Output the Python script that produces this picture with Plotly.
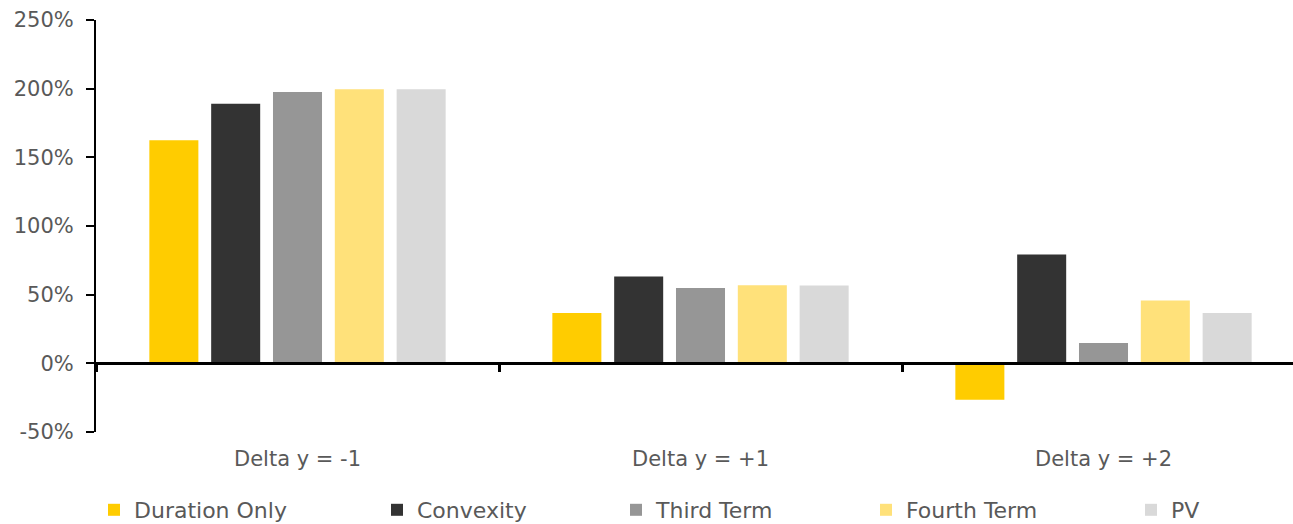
import plotly.graph_objects as go

# ---- data ----
categories = ["Delta y = -1", "Delta y = +1", "Delta y = +2"]
series_names = ["Duration Only", "Convexity", "Third Term", "Fourth Term", "PV"]
duration_only = [162.5, 36.7, -26.5]
convexity = [189.0, 63.2, 79.2]
third_term = [197.5, 54.9, 14.8]
fourth_term = [199.5, 56.9, 45.7]
pv = [199.5, 56.6, 36.7]
y_tick_values = [-50, 0, 50, 100, 150, 200, 250]
y_tick_labels = ["-50%", "0%", "50%", "100%", "150%", "200%", "250%"]

# ---- style ----
colors = ["#FFCC00", "#333333", "#969696", "#FFE17A", "#D9D9D9"]
FONT = "DejaVu Sans"
TEXT_COLOR = "#595959"
W, H = 1293, 524
ML, MR, MT, MB = 96, 0, 20, 92
plot_w = W - ML - MR
plot_h = H - MT - MB
legend_text_px = [133, 416, 655, 905, 1170]  # left of legend text in px
legend_center_py = 510

series_values = [duration_only, convexity, third_term, fourth_term, pv]

fig = go.Figure()
legend_ids = ["legend", "legend2", "legend3", "legend4", "legend5"]
for name, vals, col, lid in zip(series_names, series_values, colors, legend_ids):
    fig.add_trace(go.Bar(
        x=categories, y=vals, name=name,
        marker=dict(color=col, line=dict(width=0)),
        legend=lid,
    ))

# helper trace for the zero-crossing axis with boundary ticks
fig.add_trace(go.Scatter(
    x=categories, y=[0, 0, 0], xaxis="x2", yaxis="y",
    mode="markers", marker=dict(opacity=0), showlegend=False, hoverinfo="skip",
))

x_range = [-0.5, -0.5 + plot_w / 403.0]
y_range = [-50, 250]

layout_legends = {}
for lid, tx in zip(legend_ids, legend_text_px):
    layout_legends[lid] = dict(
        orientation="h",
        xref="container", yref="container",
        x=(tx - 39) / W,
        xanchor="left",
        y=1 - legend_center_py / H,
        yanchor="middle",
        font=dict(family=FONT, size=22, color=TEXT_COLOR),
        bgcolor="rgba(0,0,0,0)",
        itemwidth=30,
        borderwidth=0,
    )

fig.update_layout(
    width=W, height=H,
    margin=dict(l=ML, r=MR, t=MT, b=MB, pad=0, autoexpand=False),
    paper_bgcolor="white", plot_bgcolor="white",
    barmode="group", bargap=0.233, bargroupgap=0.207,
    font=dict(family=FONT, color=TEXT_COLOR),
    xaxis=dict(
        type="category", categoryorder="array", categoryarray=categories,
        range=x_range, showline=False, showgrid=False, zeroline=False,
        ticks="", ticklabelstandoff=12, automargin=False,
        tickfont=dict(family=FONT, size=21, color=TEXT_COLOR),
    ),
    xaxis2=dict(
        type="category", categoryorder="array", categoryarray=categories,
        overlaying="x", anchor="free", position=(0 - y_range[0]) / (y_range[1] - y_range[0]),
        range=x_range, showline=True, linecolor="black", linewidth=3,
        showgrid=False, zeroline=False, showticklabels=False, automargin=False,
        ticks="outside", tickson="boundaries", ticklen=7, tickwidth=3, tickcolor="black",
    ),
    yaxis=dict(
        range=y_range, tickmode="array", tickvals=y_tick_values, ticktext=y_tick_labels,
        showline=True, linecolor="black", linewidth=2,
        ticks="outside", ticklen=8, tickwidth=2, tickcolor="black",
        showgrid=False, zeroline=False, ticklabelstandoff=8, automargin=False,
        tickfont=dict(family=FONT, size=21, color=TEXT_COLOR),
    ),
    **layout_legends,
)

fig.write_html(
    "out.html",
    config={"displayModeBar": False},
    post_script="document.body.style.margin='0';document.body.style.overflow='hidden';",
)
